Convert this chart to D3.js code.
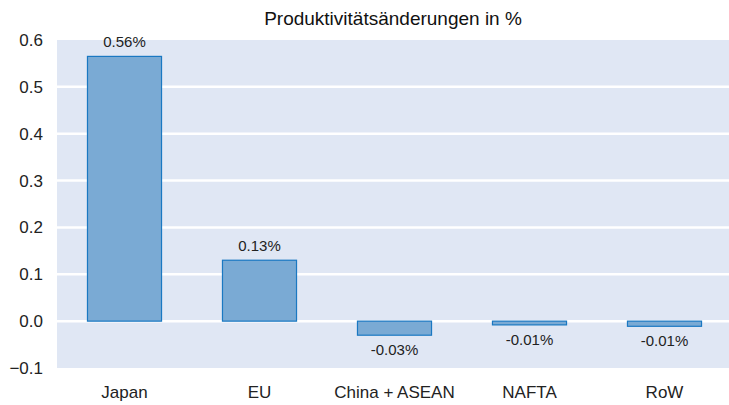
<!DOCTYPE html>
<html><head><meta charset="utf-8">
<script src="https://cdn.jsdelivr.net/npm/d3@7"></script>
<style>body{margin:0;background:#fff}svg{display:block;font-family:"Liberation Sans",Arial,sans-serif}</style>
</head><body><svg id="c" width="729" height="405"></svg>
<script>
const categories = ["Japan","EU","China + ASEAN","NAFTA","RoW"];
const values = [0.565, 0.13, -0.03, -0.008, -0.011];
const valueLabels = ["0.56%","0.13%","-0.03%","-0.01%","-0.01%"];
const yTicks = [-0.1,0,0.1,0.2,0.3,0.4,0.5,0.6];
const title = "Produktivitätsänderungen in %";

const svg = d3.select("#c");
const L=57, R=732, T=40, B=368;
const x = d3.scaleBand().domain(categories).range([L,R]).paddingInner(0.444).paddingOuter(0.222);
const y = d3.scaleLinear().domain([-0.1,0.6]).range([B,T]);

svg.append("rect").attr("x",L).attr("y",T).attr("width",729-L).attr("height",B-T).attr("fill","#e0e7f4");

const yAxis = d3.axisLeft(y).tickValues(yTicks).tickSize(0).tickPadding(14).tickFormat(d3.format(".1f"));
const gy = svg.append("g").attr("transform",`translate(${L},0)`).call(yAxis);
gy.select(".domain").remove();
gy.selectAll("text").attr("font-size",17).attr("fill","#222").attr("font-family","Liberation Sans, Arial, sans-serif");

svg.append("g").selectAll("line").data(yTicks.filter(d=>d>-0.1 && d<0.6)).join("line")
  .attr("x1",L).attr("x2",729).attr("y1",d=>y(d)).attr("y2",d=>y(d))
  .attr("stroke","#fff").attr("stroke-width",2.5);

svg.append("g").selectAll("rect").data(values).join("rect")
  .attr("x",(d,i)=>x(categories[i])+0.5).attr("width",x.bandwidth()-1)
  .attr("y",d=>Math.min(y(d),y(0))).attr("height",d=>Math.abs(y(d)-y(0)))
  .attr("fill","#7aaad4").attr("stroke","#1a78c2").attr("stroke-width",1.2);

svg.append("g").selectAll("text").data(values).join("text")
  .attr("x",(d,i)=>x(categories[i])+x.bandwidth()/2)
  .attr("y",d=>d>=0 ? y(d)-9 : y(d)+20)
  .attr("text-anchor","middle").attr("font-size",15).attr("fill","#222")
  .text((d,i)=>valueLabels[i]);

const xAxis = d3.axisBottom(x).tickSize(0).tickPadding(18);
const gx = svg.append("g").attr("transform",`translate(0,${B})`).call(xAxis);
gx.select(".domain").remove();
gx.selectAll("text").attr("font-size",17).attr("fill","#222").attr("font-family","Liberation Sans, Arial, sans-serif");

svg.append("text").attr("x",(L+729)/2).attr("y",25).attr("text-anchor","middle")
  .attr("font-size",19).attr("fill","#111").text(title);
</script></body></html>
